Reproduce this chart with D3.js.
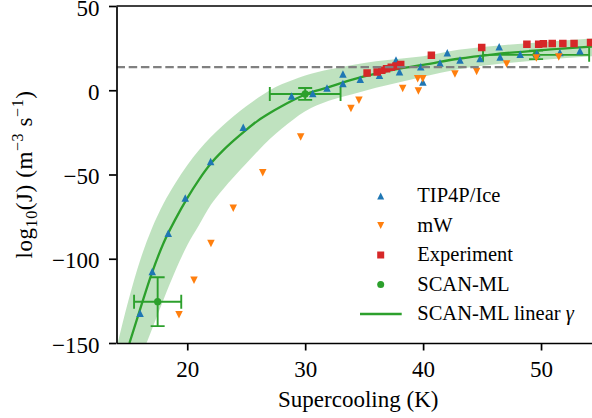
<!DOCTYPE html>
<html>
<head>
<meta charset="utf-8">
<script src="https://cdn.jsdelivr.net/npm/d3@7"></script>
<style>
  body { margin: 0; background: #fff; }
  svg { display: block; font-family: "Liberation Serif", "Times New Roman", serif; }
</style>
</head>
<body>
<svg id="chart" width="592" height="418"></svg>
<script>
// TIP4P/Ice simulations
const tipX = [16.0, 17.03, 18.39, 19.83, 21.98, 24.75, 28.85, 30.64, 31.85, 33.2, 33.2, 34.67, 36.3, 37.7, 38.0, 39.8, 39.98, 41.43, 42.05, 43.13, 44.83, 46.45, 46.53, 48.23, 49.64, 51.6, 53.3];
const tipY = [-132.3, -107.6, -84.9, -63.9, -42.3, -22.0, -3.4, -2.0, 1.4, 9.7, 4.0, 6.5, 8.9, 17.9, 11.0, 13.9, 4.9, 16.1, 22.2, 17.9, 18.9, 25.8, 19.8, 21.4, 21.8, 22.4, 23.4];

// mW simulations
const mwX = [19.3, 20.57, 22.01, 23.9, 26.4, 29.62, 33.88, 34.56, 38.27, 39.54, 39.97, 39.6, 42.7, 44.54, 47.08, 49.6, 51.5];
const mwY = [-133.3, -112.7, -90.9, -70.0, -49.0, -27.8, -10.9, -6.0, 1.0, 6.8, 6.8, -0.4, 9.7, 11.1, 15.6, 19.2, 19.8];

// Experiment
const expX = [35.25, 36.1, 36.5, 36.9, 37.3, 37.7, 38.1, 40.7, 44.97, 48.8, 49.8, 50.2, 50.95, 51.85, 52.8, 54.2];
const expY = [10.2, 10.9, 11.8, 12.7, 13.6, 14.4, 15.3, 20.8, 25.3, 27.3, 27.3, 27.6, 27.8, 27.8, 27.8, 28.4];

// SCAN-ML points with error bars
const scanX = [17.49, 30.0, 49.58];
const scanY = [-125.5, -2.2, 21.0];
const scanXerr = [2.0, 3.0, 4.5];
const scanYerr = [14.5, 3.5, 2.5];

// SCAN-ML linear gamma curve
const fitX = [15.1, 16, 17, 18, 19, 20, 21, 22, 23, 24, 25, 26, 27, 28, 29, 30, 32, 34, 36, 38, 40, 43, 46, 50, 55];
const fitY = [-150, -130, -108.5, -90.5, -76.5, -64, -53, -43.5, -36, -29.5, -23.5, -18, -13.5, -9.5, -5.8, -2.5, 1.8, 6.3, 9.8, 12.8, 15, 18.7, 21.3, 23.8, 26.2];

// uncertainty band
const bandX = [14, 15, 16, 17, 18, 19, 20, 21, 22, 23, 24, 25, 26, 27, 28, 29, 30, 32, 34, 36, 38, 40, 43, 46, 50, 55];
const bandHi = [-153, -125, -101, -82, -67, -55, -44.5, -35.5, -27.7, -21, -15, -9.5, -4.5, 0, 3.5, 6.3, 8.7, 12.3, 15, 17.2, 18.7, 20.2, 24, 26.3, 28.5, 31];
const bandLo = [-200, -180, -160, -142, -124, -107, -92, -80, -68, -59, -51, -43.5, -36, -29, -22.8, -17.3, -12.5, -6.3, -2.3, 1.5, 4.8, 8, 12.5, 15.3, 18, 20.5];

const refLine = 13.7;

const xTicks = [20, 30, 40, 50];
const yTicks = [-150, -100, -50, 0, 50];
const legendLabels = ["TIP4P/Ice", "mW", "Experiment", "SCAN-ML", "SCAN-ML linear γ"];

const colors = {blue: "#1f77b4", orange: "#ff7f0e", red: "#d62728", green: "#2ca02c"};

// Layout
const mLeft = 116.5, mTop = 6, plotW = 483.5, plotH = 337;
const svg = d3.select("#chart");

const x = d3.scaleLinear().domain([14, 55]).range([0, plotW]);
const y = d3.scaleLinear().domain([-150, 50]).range([plotH, 0]);

svg.append("defs").append("clipPath").attr("id", "clip")
  .append("rect").attr("width", plotW).attr("height", plotH);

const g = svg.append("g").attr("transform", `translate(${mLeft},${mTop})`);
const plot = g.append("g").attr("clip-path", "url(#clip)");

// marker shapes
const triUp = s => `M0,${-s/2}L${s/2},${s/2}L${-s/2},${s/2}Z`;
const triDown = s => `M0,${s/2}L${s/2},${-s/2}L${-s/2},${-s/2}Z`;
const square = s => `M${-s/2},${-s/2}h${s}v${s}h${-s}Z`;

// band
const band = d3.area()
  .x((d, i) => x(bandX[i]))
  .y0((d, i) => y(bandLo[i]))
  .y1((d, i) => y(bandHi[i]))
  .curve(d3.curveMonotoneX);
plot.append("path").datum(bandX)
  .attr("d", band)
  .attr("fill", colors.green)
  .attr("fill-opacity", 0.3);

// fitted curve
const line = d3.line()
  .x((d, i) => x(fitX[i]))
  .y((d, i) => y(fitY[i]))
  .curve(d3.curveMonotoneX);
plot.append("path").datum(fitX)
  .attr("d", line)
  .attr("fill", "none")
  .attr("stroke", colors.green)
  .attr("stroke-width", 2.3);

// SCAN-ML error bars
const cap = 7;
const eb = plot.append("g").attr("stroke", colors.green).attr("stroke-width", 1.9);
scanX.forEach((sx, i) => {
  const cx = x(sx), cy = y(scanY[i]);
  const x0 = x(sx - scanXerr[i]), x1 = x(sx + scanXerr[i]);
  const y0 = y(scanY[i] - scanYerr[i]), y1 = y(scanY[i] + scanYerr[i]);
  eb.append("line").attr("x1", x0).attr("x2", x1).attr("y1", cy).attr("y2", cy);
  eb.append("line").attr("x1", cx).attr("x2", cx).attr("y1", y0).attr("y2", y1);
  [x0, x1].forEach(v => eb.append("line").attr("x1", v).attr("x2", v).attr("y1", cy - cap).attr("y2", cy + cap));
  [y0, y1].forEach(v => eb.append("line").attr("x1", cx - cap).attr("x2", cx + cap).attr("y1", v).attr("y2", v));
});
plot.selectAll(".scan").data(scanX).enter().append("circle")
  .attr("cx", d => x(d))
  .attr("cy", (d, i) => y(scanY[i]))
  .attr("r", 3.6)
  .attr("fill", colors.green);

// TIP4P/Ice
plot.selectAll(".tip").data(tipX).enter().append("path")
  .attr("d", triUp(7.5))
  .attr("transform", (d, i) => `translate(${x(d)},${y(tipY[i])})`)
  .attr("fill", colors.blue);

// mW
plot.selectAll(".mw").data(mwX).enter().append("path")
  .attr("d", triDown(7.5))
  .attr("transform", (d, i) => `translate(${x(d)},${y(mwY[i])})`)
  .attr("fill", colors.orange);

// Experiment
plot.selectAll(".exp").data(expX).enter().append("path")
  .attr("d", square(7.5))
  .attr("transform", (d, i) => `translate(${x(d)},${y(expY[i])})`)
  .attr("fill", colors.red);

// reference dashed line
plot.append("line")
  .attr("x1", 0).attr("x2", plotW)
  .attr("y1", y(refLine)).attr("y2", y(refLine))
  .attr("stroke", "#808080")
  .attr("stroke-width", 2.3)
  .attr("stroke-dasharray", "8.5,3.7");

// axes
const xAxis = g.append("g").attr("transform", `translate(0,${plotH})`)
  .call(d3.axisBottom(x).tickValues(xTicks).tickSize(7.5).tickSizeOuter(0).tickPadding(10.5));
const yAxis = g.append("g")
  .call(d3.axisLeft(y).tickValues(yTicks).tickSize(7.5).tickSizeOuter(0).tickPadding(9.5));
[xAxis, yAxis].forEach(a => {
  a.select(".domain").attr("stroke", "#000").attr("stroke-width", 1.7);
  a.selectAll(".tick line").attr("stroke", "#000").attr("stroke-width", 1.7);
  a.selectAll(".tick text").attr("font-size", 23).attr("fill", "#000")
    .attr("font-family", '"Liberation Serif", serif');
});
yAxis.selectAll(".tick text").attr("dy", "0.4em");

// top spine
g.append("line").attr("x1", 0).attr("x2", plotW).attr("y1", 0).attr("y2", 0)
  .attr("stroke", "#000").attr("stroke-width", 1.7);

// axis labels
svg.append("text")
  .attr("x", mLeft + plotW / 2).attr("y", 407)
  .attr("text-anchor", "middle")
  .attr("font-size", 23)
  .text("Supercooling (K)");

const yl = svg.append("text")
  .attr("transform", `translate(32,${mTop + plotH / 2}) rotate(-90)`)
  .attr("text-anchor", "middle")
  .attr("font-size", 23)
  .attr("letter-spacing", 0.6);
yl.append("tspan").text("log");
yl.append("tspan").attr("font-size", 16).attr("dy", 5).text("10");
yl.append("tspan").attr("dy", -5).text("(J) (m");
yl.append("tspan").attr("font-size", 16).attr("dy", -9).text("−3");
yl.append("tspan").attr("dy", 9).text(" s");
yl.append("tspan").attr("font-size", 16).attr("dy", -9).text("−1");
yl.append("tspan").attr("dy", 9).text(")");

// legend
const lgX = 380.7, lgText = 417.3;
const lg = svg.append("g");
legendLabels.forEach((lab, i) => {
  const base = 202 + i * 29.5, my = base - 6;
  if (i === 0) lg.append("path").attr("d", triUp(7)).attr("transform", `translate(${lgX},${my})`).attr("fill", colors.blue);
  if (i === 1) lg.append("path").attr("d", triDown(7)).attr("transform", `translate(${lgX},${my})`).attr("fill", colors.orange);
  if (i === 2) lg.append("path").attr("d", square(7)).attr("transform", `translate(${lgX},${my})`).attr("fill", colors.red);
  if (i === 3) lg.append("circle").attr("cx", lgX).attr("cy", my).attr("r", 3.5).attr("fill", colors.green);
  if (i === 4) lg.append("line").attr("x1", 360).attr("x2", 401.7).attr("y1", my).attr("y2", my)
    .attr("stroke", colors.green).attr("stroke-width", 2.3);
  const t = lg.append("text").attr("x", lgText).attr("y", base).attr("font-size", 20.5);
  if (i === 4) {
    t.append("tspan").text("SCAN-ML linear ");
    t.append("tspan").attr("font-style", "italic").text("γ");
  } else {
    t.text(lab);
  }
});
</script>
</body>
</html>
